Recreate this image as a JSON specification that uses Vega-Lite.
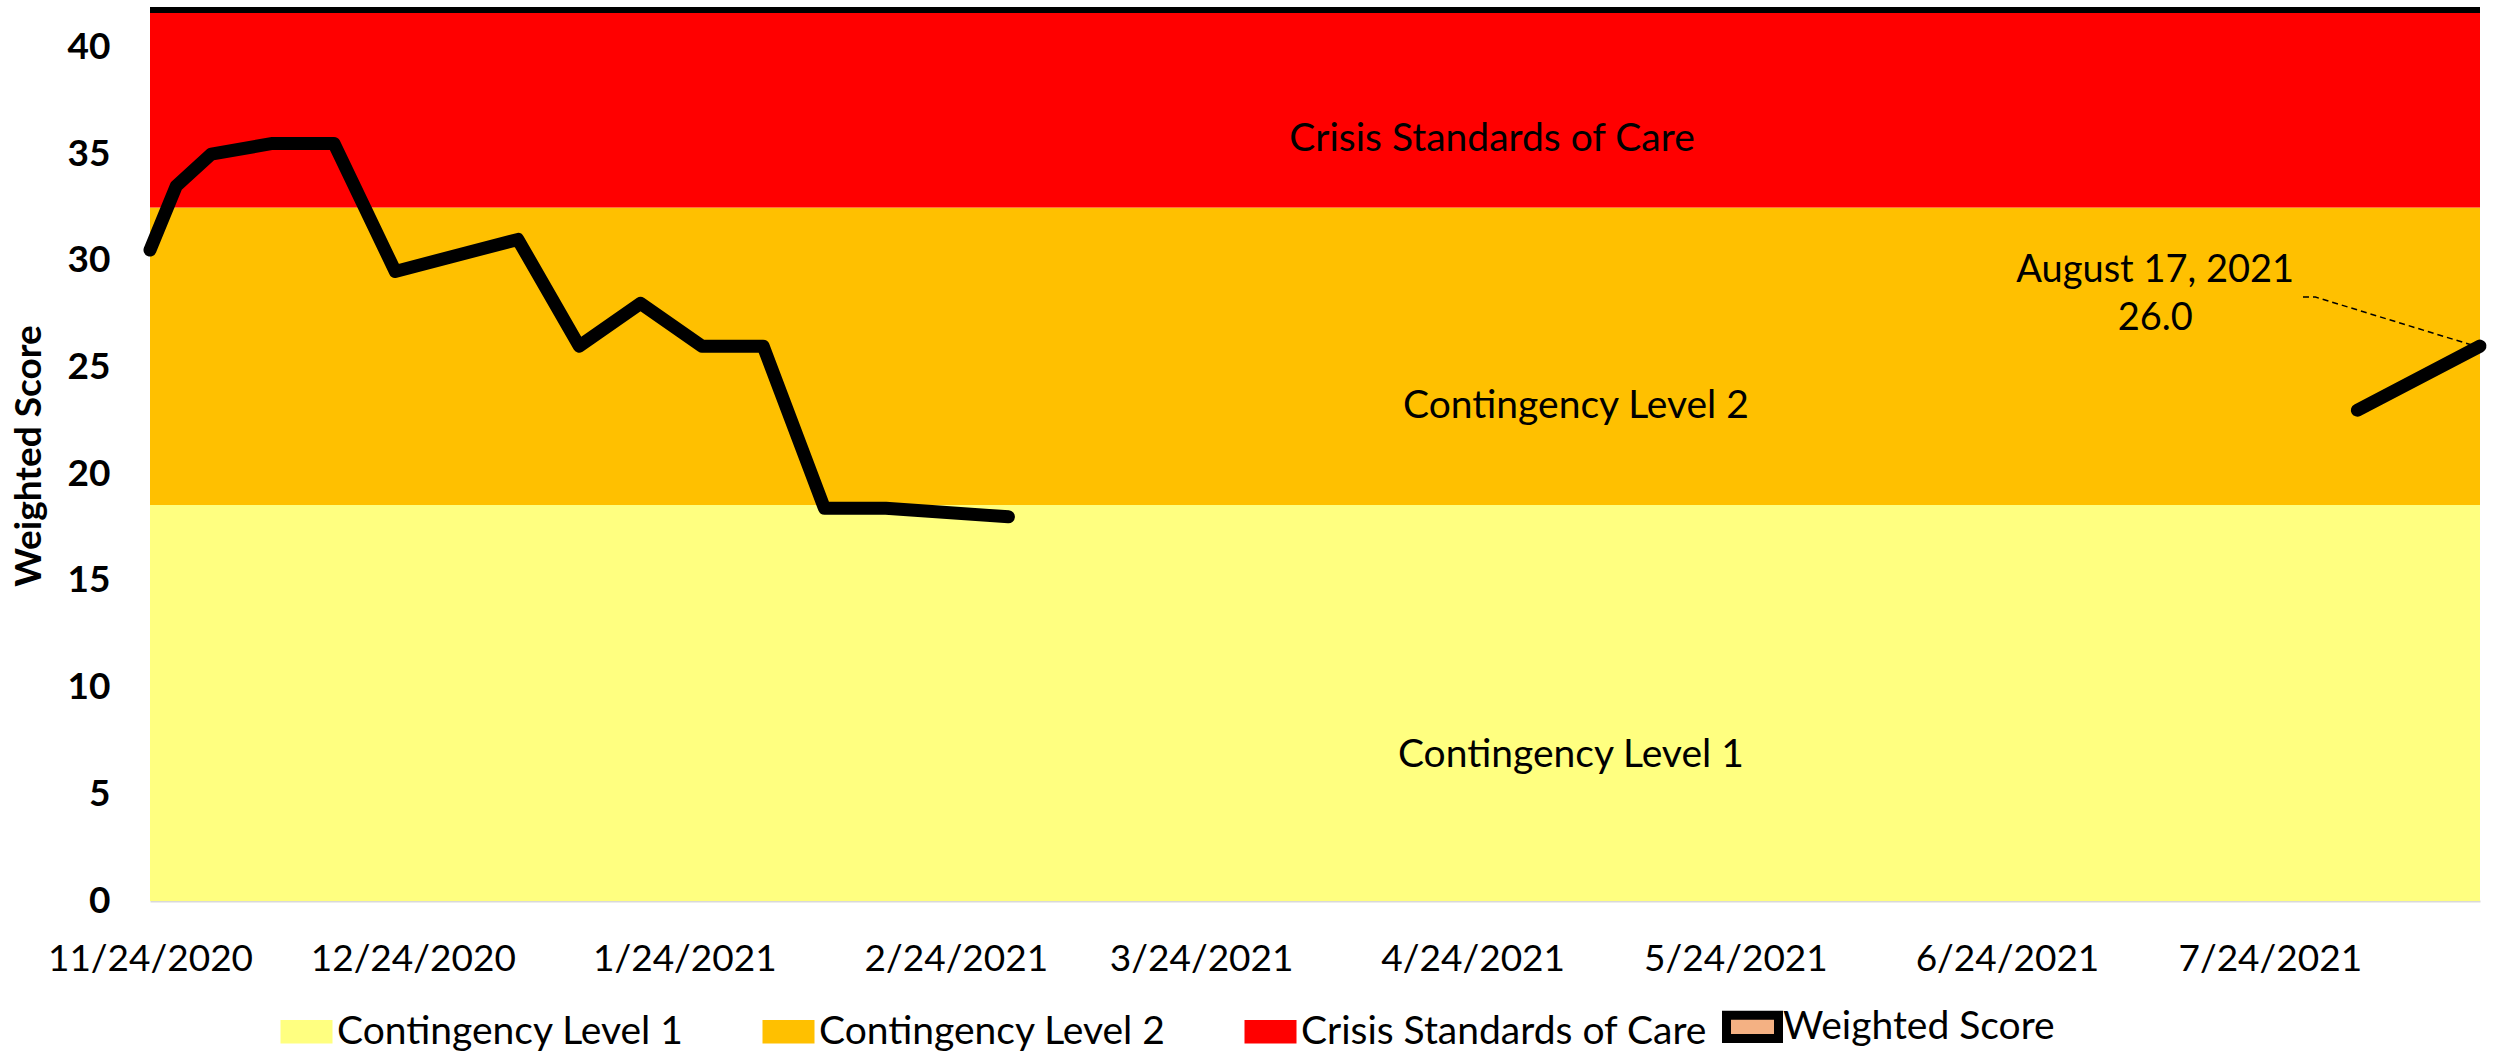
{
  "$schema": "https://vega.github.io/schema/vega-lite/v6.json",
  "width": 2330,
  "height": 891,
  "autosize": "none",
  "padding": {"left": 150, "top": 10, "right": 16, "bottom": 153},
  "background": "white",
  "config": {"view": {"stroke": null}, "font": "Lato"},
  "datasets": {
    "bands": [
      {"band": "Contingency Level 1", "low": 0, "high": 18.55},
      {"band": "Contingency Level 2", "low": 18.55, "high": 32.5},
      {"band": "Crisis Standards of Care", "low": 32.5, "high": 41.75}
    ],
    "bandLabels": [
      {"text": "Crisis Standards of Care", "date": "2021-04-26T05:00:00Z", "score": 35.7},
      {"text": "Contingency Level 2", "date": "2021-05-05T19:00:00Z", "score": 23.2},
      {"text": "Contingency Level 1", "date": "2021-05-05T05:00:00Z", "score": 6.84}
    ],
    "score": [
      {"date": "2020-11-24", "score": 30.5, "segment": 1},
      {"date": "2020-11-27", "score": 33.5, "segment": 1},
      {"date": "2020-12-01", "score": 35.0, "segment": 1},
      {"date": "2020-12-08", "score": 35.5, "segment": 1},
      {"date": "2020-12-15", "score": 35.5, "segment": 1},
      {"date": "2020-12-22", "score": 29.5, "segment": 1},
      {"date": "2021-01-05", "score": 31.0, "segment": 1},
      {"date": "2021-01-12", "score": 26.0, "segment": 1},
      {"date": "2021-01-19", "score": 28.0, "segment": 1},
      {"date": "2021-01-26", "score": 26.0, "segment": 1},
      {"date": "2021-02-02", "score": 26.0, "segment": 1},
      {"date": "2021-02-09", "score": 18.4, "segment": 1},
      {"date": "2021-02-16", "score": 18.4, "segment": 1},
      {"date": "2021-03-02", "score": 18.0, "segment": 1},
      {"date": "2021-08-03", "score": 23.0, "segment": 2},
      {"date": "2021-08-17", "score": 26.0, "segment": 2}
    ],
    "annot": [
      {"text": "August 17, 2021\n26.0", "date": "2021-07-10T22:00:00Z", "score": 29.5}
    ],
    "leader": [
      {"date": "2021-07-27T19:00:00Z", "score": 28.3},
      {"date": "2021-07-29T05:00:00Z", "score": 28.3},
      {"date": "2021-08-16T02:00:00Z", "score": 26.05}
    ]
  },
  "layer": [
    {
      "data": {"name": "bands"},
      "mark": {"type": "rect"},
      "encoding": {
        "y": {
          "field": "low", "type": "quantitative",
          "scale": {"domain": [0, 41.75], "nice": false, "zero": true},
          "axis": {
            "title": "Weighted Score",
            "titleFont": "Lato", "titleFontSize": 37, "titleFontWeight": "bold", "titleColor": "black",
            "titleX": -121, "titleY": 445.5, "titleAngle": -90, "titleAlign": "center", "titleBaseline": "middle",
            "values": [0, 5, 10, 15, 20, 25, 30, 35, 40],
            "labelFont": "Lato", "labelFontSize": 37, "labelFontWeight": "bold", "labelColor": "black",
            "labelPadding": 40, "ticks": false, "domain": false, "grid": false
          }
        },
        "y2": {"field": "high"},
        "color": {
          "field": "band", "type": "nominal",
          "scale": {
            "domain": ["Contingency Level 1", "Contingency Level 2", "Crisis Standards of Care", "Weighted Score"],
            "range": ["#FFFF80", "#FFC000", "#FF0000", "#F4B183"]
          },
          "legend": {
            "title": null, "orient": "none", "legendX": 137, "legendY": 997,
            "direction": "horizontal", "columns": 4, "padding": 0, "gridAlign": "all",
            "symbolType": "M-1,-0.45H1V0.45H-1Z", "symbolSize": 2704, "symbolStrokeWidth": 0, "symbolOpacity": 1,
            "labelFont": "Lato", "labelFontSize": 39, "labelColor": "black", "labelOffset": 11, "labelLimit": 1000,
            "columnPadding": 0,
            "encode": {
              "symbols": {
                "update": {
                  "stroke": {"signal": "datum.value === 'Weighted Score' ? '#000000' : 'transparent'"},
                  "strokeWidth": {"signal": "datum.value === 'Weighted Score' ? 9 : 0"}
                }
              }
            }
          }
        }
      }
    },
    {
      "data": {"name": "bandLabels"},
      "mark": {"type": "text", "font": "Lato", "fontSize": 39, "color": "black", "align": "center", "baseline": "middle"},
      "encoding": {
        "x": {"field": "date", "type": "temporal"},
        "y": {"field": "score", "type": "quantitative"},
        "text": {"field": "text"}
      }
    },
    {
      "data": {"name": "score"},
      "mark": {"type": "line", "color": "black", "strokeWidth": 13, "strokeCap": "round", "strokeJoin": "round"},
      "encoding": {
        "x": {
          "field": "date", "type": "temporal",
          "scale": {"type": "utc", "domain": [1606176000000, 1629158400000], "nice": false},
          "axis": {
            "title": null,
            "values": [
              {"year": 2020, "month": 11, "date": 24, "utc": true},
              {"year": 2020, "month": 12, "date": 24, "utc": true},
              {"year": 2021, "month": 1, "date": 24, "utc": true},
              {"year": 2021, "month": 2, "date": 24, "utc": true},
              {"year": 2021, "month": 3, "date": 24, "utc": true},
              {"year": 2021, "month": 4, "date": 24, "utc": true},
              {"year": 2021, "month": 5, "date": 24, "utc": true},
              {"year": 2021, "month": 6, "date": 24, "utc": true},
              {"year": 2021, "month": 7, "date": 24, "utc": true}
            ],
            "labelExpr": "utcFormat(datum.value, '%-m/%-d/%Y')",
            "labelFlush": false, "labelOverlap": false, "labelBound": false, "labelLimit": 1000,
            "labelFont": "Lato", "labelFontSize": 37, "labelColor": "black", "labelPadding": 40, "labelBaseline": "top",
            "ticks": false, "grid": false, "domainColor": "#d9d9d9", "domainWidth": 2
          }
        },
        "y": {"field": "score", "type": "quantitative"},
        "detail": {"field": "segment", "type": "nominal"}
      }
    },
    {
      "data": {"name": "leader"},
      "mark": {"type": "line", "color": "black", "strokeWidth": 1.5, "strokeDash": [6, 4]},
      "encoding": {
        "x": {"field": "date", "type": "temporal"},
        "y": {"field": "score", "type": "quantitative"}
      }
    },
    {
      "data": {"name": "annot"},
      "mark": {"type": "text", "font": "Lato", "fontSize": 38, "color": "black", "align": "center", "baseline": "middle", "lineBreak": "\n", "lineHeight": 48},
      "encoding": {
        "x": {"field": "date", "type": "temporal"},
        "y": {"field": "score", "type": "quantitative"},
        "text": {"field": "text"}
      }
    },
    {
      "data": {"values": [{"top": 41.75}]},
      "mark": {"type": "rule", "color": "black", "strokeWidth": 6},
      "encoding": {"y": {"field": "top", "type": "quantitative"}}
    }
  ]
}
